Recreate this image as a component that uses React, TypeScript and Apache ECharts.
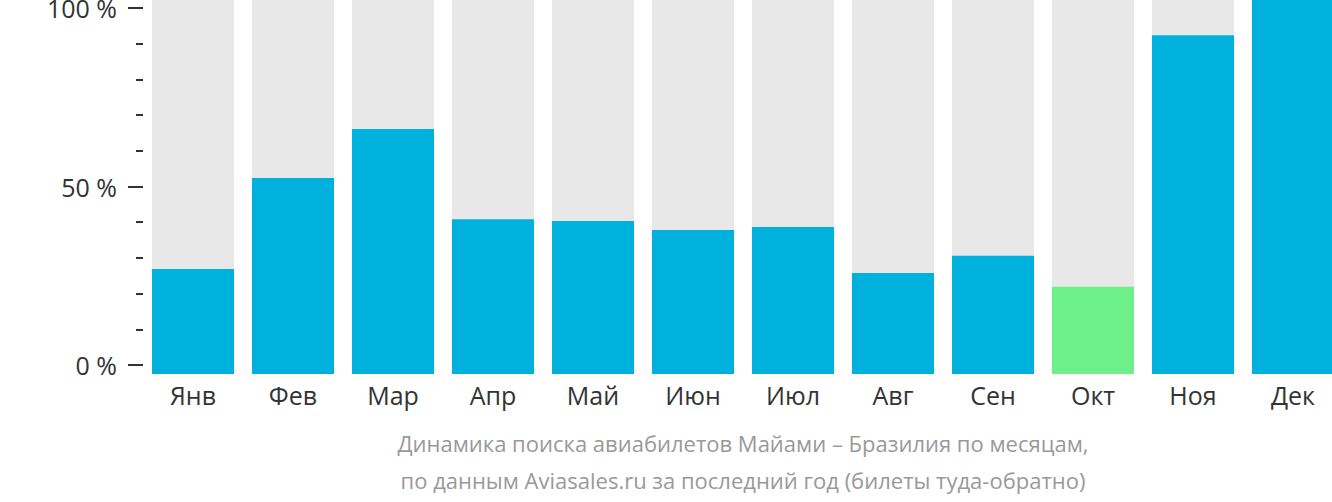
import React, { useEffect, useRef } from "react";
import * as echarts from "echarts";

const months = ["Янв", "Фев", "Мар", "Апр", "Май", "Июн", "Июл", "Авг", "Сен", "Окт", "Ноя", "Дек"];
const searchShare = [28.1, 52.4, 65.5, 41.4, 40.9, 38.5, 39.3, 27.0, 31.6, 23.3, 90.6, 100];
const highlightIndex = 9;
const axisTicks = [0, 50, 100];
const subtitleLines = [
  "Динамика поиска авиабилетов Майами – Бразилия по месяцам,",
  "по данным Aviasales.ru за последний год (билеты туда-обратно)",
];

const BLUE = "#01b1dd";
const GREEN = "#6df08a";
const GRAY = "#e8e8e8";
const FONT = "'Open Sans', sans-serif";

export default function App() {
  const ref = useRef<HTMLDivElement>(null);
  useEffect(() => {
    if (!ref.current) return;
    const chart = echarts.init(ref.current, undefined, { renderer: "svg" });
    chart.setOption({
      animation: false,
      textStyle: { fontFamily: FONT },
      grid: [
        { left: 143, right: 0, top: 0, bottom: 128, outerBoundsMode: "none", containLabel: false },
        { left: 143, right: 0, top: 8, bottom: 137, outerBoundsMode: "none", containLabel: false },
      ],
      xAxis: [
        {
          type: "category",
          gridIndex: 0,
          data: months,
          axisLine: { show: false },
          axisTick: { show: false },
          axisLabel: { color: "#333", fontSize: 25, margin: 8, fontFamily: FONT },
        },
        { type: "category", gridIndex: 1, data: months, show: false },
      ],
      yAxis: [
        { type: "value", gridIndex: 0, min: 0, max: 100, show: false },
        {
          type: "value",
          gridIndex: 1,
          min: axisTicks[0],
          max: axisTicks[axisTicks.length - 1],
          interval: 50,
          splitLine: { show: false },
          axisLine: { show: false },
          axisTick: { show: true, length: 15, lineStyle: { color: "#333", width: 2 } },
          minorTick: { show: true, splitNumber: 5, length: 7, lineStyle: { color: "#333", width: 2 } },
          axisLabel: {
            color: "#333",
            fontSize: 25,
            lineHeight: 18,
            margin: 26,
            fontFamily: FONT,
            verticalAlign: "middle",
            padding: [3, 0, 0, 0],
            formatter: (v: number) => `${v} %`,
          },
        },
      ],
      title: {
        text: subtitleLines.join("\n"),
        left: 738,
        textAlign: "center",
        top: 419,
        textStyle: { color: "#999", fontSize: 22, fontWeight: "normal", lineHeight: 37, fontFamily: FONT },
      },
      series: [
        {
          type: "bar",
          xAxisIndex: 0,
          yAxisIndex: 0,
          barWidth: "82%",
          showBackground: true,
          backgroundStyle: { color: GRAY },
          data: searchShare.map((v, i) => ({
            value: v,
            itemStyle: { color: i === highlightIndex ? GREEN : BLUE },
          })),
        },
      ],
    });
    return () => chart.dispose();
  }, []);
  return (
    <div style={{ position: "fixed", left: 0, top: 0, width: 1332, height: 502, overflow: "hidden", background: "#fff" }}>
      <div ref={ref} style={{ width: 1343, height: 502 }} />
    </div>
  );
}
